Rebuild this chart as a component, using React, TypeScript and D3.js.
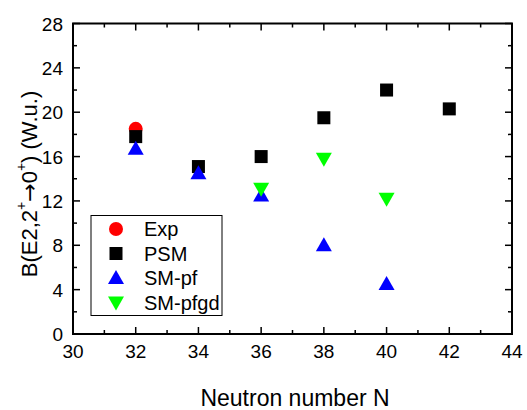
import React from "react";
import * as d3 from "d3";

const expN = [32];
const expB = [18.5];
const psmN = [32, 34, 36, 38, 40, 42];
const psmB = [17.8, 15.1, 16.0, 19.5, 22.0, 20.3];
const smpfN = [32, 34, 36, 38, 40];
const smpfB = [16.7, 14.5, 12.5, 8.0, 4.5];
const smpfgdN = [36, 38, 40];
const smpfgdB = [13.1, 15.8, 12.2];
const xTicks = [30, 32, 34, 36, 38, 40, 42, 44];
const yTicks = [0, 4, 8, 12, 16, 20, 24, 28];
const legendLabels = ["Exp", "PSM", "SM-pf", "SM-pfgd"];

const W = 527, H = 410;
const L = 73, R = 512, T = 23.5, B = 334;
const FONT = "'Liberation Sans', Arial, sans-serif";

export default function App() {
  const x = d3.scaleLinear().domain([30, 44]).range([L, R]);
  const y = d3.scaleLinear().domain([0, 28]).range([B, T]);
  const xMinor = d3.range(30, 44.01, 1);
  const yMinor = d3.range(0, 28.01, 2);

  const circle = (cx: number, cy: number, k: string) => (
    <circle key={k} cx={cx} cy={cy} r={7} fill="#ff0000" />
  );
  const square = (cx: number, cy: number, k: string) => (
    <rect key={k} x={cx - 6.5} y={cy - 6.5} width={13} height={13} fill="#000" />
  );
  const upTri = (cx: number, cy: number, k: string) => (
    <path key={k} d={`M${cx - 8},${cy + 6} L${cx + 8},${cy + 6} L${cx},${cy - 8} Z`} fill="#0000ff" />
  );
  const downTri = (cx: number, cy: number, k: string) => (
    <path key={k} d={`M${cx - 8},${cy - 6} L${cx + 8},${cy - 6} L${cx},${cy + 8} Z`} fill="#00ff00" />
  );

  const markers = [circle, square, upTri, downTri];
  const legX = 116, legTextX = 144;
  const legYs = [229, 253.5, 278, 302.5];

  return (
    <svg width={W} height={H} style={{ position: "absolute", left: 0, top: 0, background: "#fff" }} fontFamily={FONT}>
      <rect x={0} y={0} width={W} height={H} fill="#fff" />
      {xMinor.map((v) => {
        const major = v % 2 === 0;
        const len = major ? 7 : 4;
        return (
          <g key={"xt" + v} stroke="#000" strokeWidth={1.5}>
            <line x1={x(v)} x2={x(v)} y1={B} y2={B - len} />
            <line x1={x(v)} x2={x(v)} y1={T} y2={T + len} />
          </g>
        );
      })}
      {yMinor.map((v) => {
        const major = v % 4 === 0;
        const len = major ? 7 : 4;
        return (
          <g key={"yt" + v} stroke="#000" strokeWidth={1.5}>
            <line x1={L} x2={L + len} y1={y(v)} y2={y(v)} />
            <line x1={R} x2={R - len} y1={y(v)} y2={y(v)} />
          </g>
        );
      })}
      <rect x={L} y={T} width={R - L} height={B - T} fill="none" stroke="#000" strokeWidth={2} />
      {xTicks.map((v) => (
        <text key={"xl" + v} x={x(v)} y={358} textAnchor="middle" fontSize={19} fill="#000">
          {v}
        </text>
      ))}
      {yTicks.map((v) => (
        <text key={"yl" + v} x={63} y={y(v) + 7} textAnchor="end" fontSize={19} fill="#000">
          {v}
        </text>
      ))}
      <text x={295} y={406} textAnchor="middle" fontSize={23} fill="#000">
        Neutron number N
      </text>
      <text transform={`translate(37,184) rotate(-90)`} textAnchor="middle" fontSize={22} fill="#000">
        B(E2,2<tspan dy={-11} fontSize={14}>+</tspan>
        <tspan dy={11} fontFamily="'DejaVu Sans', sans-serif">→</tspan>
        <tspan>0</tspan>
        <tspan dy={-11} fontSize={14}>+</tspan>
        <tspan dy={11}>) (W.u.)</tspan>
      </text>
      <g>
        {expN.map((n, i) => circle(x(n), y(expB[i]), "e" + i))}
        {psmN.map((n, i) => square(x(n), y(psmB[i]), "p" + i))}
        {smpfN.map((n, i) => upTri(x(n), y(smpfB[i]), "s" + i))}
        {smpfgdN.map((n, i) => downTri(x(n), y(smpfgdB[i]), "g" + i))}
      </g>
      <rect x={91} y={215.5} width={131} height={100} fill="#fff" stroke="#000" strokeWidth={1} />
      {legendLabels.map((lab, i) => (
        <g key={"lg" + i}>
          {markers[i](legX, legYs[i], "lm" + i)}
          <text x={legTextX} y={legYs[i] + 7} fontSize={20} fill="#000">
            {lab}
          </text>
        </g>
      ))}
    </svg>
  );
}
